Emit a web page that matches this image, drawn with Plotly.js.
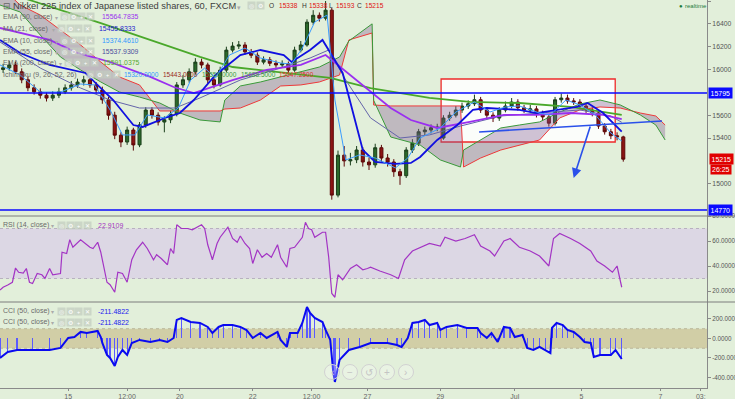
<!DOCTYPE html>
<html><head><meta charset="utf-8">
<script src="https://cdn.plot.ly/plotly-3.0.1.min.js"></script>
<style>html,body{margin:0;padding:0;background:#e2efda;overflow:hidden}#chart{width:735px;height:399px}</style>
</head><body><div id="chart"></div>
<script>
// ---- x axis (trading hours from left edge) ----
const tickHours = [44, 82, 116, 163, 201, 237, 284, 332, 375, 426, 452];
const tickLabels = ['15', '12:00', '20', '22', '12:00', '27', '29', 'Jul', '5', '7', '03:'];

// ---- price axis labels (15800 / 15200 / 14800 sit under the value boxes) ----
const priceTicks = [15000, 15400, 15600, 16000, 16200, 16400, 16600];
const rsiTicks = [20, 40, 60, 80];
const cciTicks = [-400, -200, 0, 200];

// ---- price candles (4-hour groups) ----
const opens = [16000,16015,16040,15980,15910,15840,15805,15775,15750,15775,
15805,15840,15865,15890,15910,15865,15820,15735,15600,15425,
15365,15470,15340,15515,15645,15600,15540,15560,15610,15865,
15910,15980,16065,16040,15910,15865,15995,16170,16205,16215,
16155,16125,16065,16085,16055,16040,16050,15995,16170,16215,
16415,16475,16450,16520,14900,15250,15200,15210,15295,15190,
15165,15315,15225,15190,15105,15070,15295,15355,15455,15470,
15490,15400,15575,15600,15645,15680,15700,15735,15645,15600,
15575,15645,15680,15715,15665,15645,15655,15610,15585,15530,
15735,15750,15725,15715,15680,15645,15620,15505,15455,15420,15410];
const highs = [16050,16075,16070,16010,15940,15870,15835,15800,15810,15840,
15870,15900,15920,15945,15935,15890,15850,15760,15630,15450,
15500,15490,15540,15670,15670,15625,15590,15640,15890,15950,
16010,16100,16095,16060,15935,16025,16200,16240,16250,16240,
16180,16150,16115,16110,16080,16080,16070,16200,16250,16440,
16520,16500,16600,16540,15290,15330,15270,15330,15320,15230,
15350,15340,15260,15215,15130,15320,15390,15480,15500,15520,
15525,15600,15630,15680,15710,15730,15780,15760,15670,15625,
15670,15720,15750,15740,15690,15690,15680,15640,15610,15760,
15790,15780,15750,15740,15705,15670,15640,15530,15480,15450,15420];
const lows = [15970,15990,15960,15880,15810,15780,15745,15720,15725,15750,
15785,15815,15840,15860,15840,15790,15700,15560,15390,15320,
15340,15290,15320,15490,15570,15510,15450,15530,15590,15840,
15885,15955,16010,15880,15835,15850,15975,16150,16180,16130,
16100,16040,16045,16030,16015,16020,15960,15980,16150,16200,
16390,16420,16430,14860,14880,15150,15160,15180,15150,15120,
15140,15190,15150,15060,14990,15050,15270,15330,15420,15440,
15460,15385,15550,15580,15620,15655,15680,15620,15570,15540,
15550,15625,15660,15640,15620,15620,15580,15555,15500,15510,
15710,15700,15690,15655,15620,15590,15480,15430,15390,15380,15193];
const closes = [16015,16040,15980,15910,15840,15805,15775,15750,15775,15805,
15840,15865,15890,15910,15865,15820,15735,15600,15425,15365,
15470,15340,15515,15645,15600,15540,15560,15610,15865,15910,
15980,16065,16040,15910,15865,15995,16170,16205,16215,16155,
16125,16065,16085,16055,16040,16050,15995,16170,16215,16415,
16475,16450,16520,14900,15250,15200,15210,15295,15190,15165,
15315,15225,15190,15105,15070,15295,15355,15455,15470,15490,
15495,15575,15600,15645,15680,15700,15735,15645,15600,15575,
15645,15680,15715,15665,15645,15655,15610,15585,15530,15735,
15750,15725,15715,15680,15645,15620,15505,15455,15420,15410,15215];
const barHours = closes.map((_, i) => 4 * i + 2);

// ---- moving averages ----
const ema200H = [0,19,65,129,150,213,239,277,303,335,368,401];
const ema200V = [16696,16609,16407,16110,16022,15926,15838,15751,15716,15707,15672,15602];
const ema90H = [0,32,50,71,97,112,125,150,172,194,210,226,239,252,265,282,303,325,346,368,389,401];
const ema90V = [16364,16259,16145,16066,15935,15847,15794,15908,15996,16040,16127,15952,15803,15663,15558,15488,15541,15602,15602,15619,15602,15565];
const ema55H = [0,26,52,71,90,113,129,155,181,200,212,223,239,258,277,297,323,348,374,394,401];
const ema55V = [16241,16013,15838,15733,15663,15663,15751,15908,16013,16101,16171,15908,15576,15400,15427,15505,15593,15619,15646,15593,15538];
const ma21H = [0,13,32,55,73,86,92,108,116,125,139,155,168,183,188,200,208,221,234,242,255,265,271,282,295,305,314,335,346,359,372,379,389,401];
const ma21V = [16259,16145,16040,15970,15733,15514,15497,15584,15619,15733,15952,16127,16171,16127,16066,16171,16259,15970,15295,15190,15173,15182,15234,15383,15514,15646,15663,15646,15619,15646,15672,15707,15619,15456];
const ema10H = [0,13,26,39,52,61,71,79,87,95,106,115,123,132,139,148,158,168,181,188,195,203,211,216,223,232,242,255,263,271,284,294,306,316,326,335,348,355,365,374,384,394,401];
const ema10V = [16040,15952,15803,15803,15873,15865,15646,15427,15427,15602,15576,15663,15908,16013,15926,16127,16188,16101,16057,16048,16188,16416,16477,15733,15208,15252,15225,15138,15225,15400,15488,15628,15716,15628,15672,15681,15619,15602,15733,15690,15602,15444,15374];

// ---- Ichimoku cloud ----
const cloudH = [0,13,26,39,52,65,77,90,103,116,129,142,145,155,168,181,194,206,219,225,240,241,252,271,284,297,299,310,323,335,348,361,374,387,400,413,423,429];
const spanB = [16731,16565,16477,16346,16215,16066,15935,15865,15637,15637,15637,15637,15654,15663,15733,15856,15865,15891,15952,16259,16320,15689,15681,15681,15681,15681,15146,15225,15295,15339,15383,15576,15646,15672,15663,15619,15593,15514];
const spanA = [16565,16504,16302,16110,15996,15891,15803,15759,15707,15619,15558,15541,15733,15856,15891,15935,15978,16022,16110,16250,16400,15730,15409,15339,15208,15146,15295,15383,15488,15514,15541,15628,15698,15733,15690,15602,15514,15383];

// ---- horizontal levels & drawings ----
const levels = [15795, 14770];
const boxHours = [284.5, 396.8];
const boxPrices = [15365, 15917];
const trendHours = [309, 427];
const trendPrices = [15453, 15549];
const arrowHours = [381, 370];
const arrowPrices = [15514, 15050];

// ---- RSI (14) ----
const rsiH = [0,2,5,8,10,12,15,17,19,21,24,27,29,32,34,39,40,43,45,47,52,55,58,60,63,65,69,71,74,76,79,82,85,88,92,95,99,101,104,108,110,112,114,117,121,124,130,132,134,137,140,142,144,147,150,153,155,158,161,163,166,169,172,175,179,181,185,187,190,192,195,197,199,201,203,208,210,212,214,216,218,221,226,230,234,237,239,245,252,257,261,266,271,277,284,287,294,300,306,310,316,319,325,329,335,342,348,354,357,361,368,374,381,385,390,395,398,401];
const rsiV = [20.8,23,24.8,27,38.4,35,34.4,38,27,26,34,33,30,38,33,34,51,50,61,55,61,58,55,54,59,51,27,25,19,35,34,27,45,53,59,54,45,49,46,41,54,50,73,70,70,69,73,70,57,45,58,63,66,71,62,59,64,58,54,42,53,47,50,47,57,47,39,54,55,58,63,75,70,69,63,67,67,47,18,15,33,29,38,41,37,38,39,36,33,30,45,52,55,58,56,63,60,62,65,56,52,48,60,62,55,52,48,40,62,66,62,58,52,44,40,35,40,23];

// ---- CCI (50) ----
const cciH = [0,5,11,21,32,39,44,48,52,56,63,65,66,69,71,74,76,79,82,85,90,97,103,108,112,114,117,123,129,134,137,141,144,150,155,159,163,168,172,179,181,185,187,192,195,198,200,203,208,210,213,215,216,219,225,232,239,250,256,259,263,266,270,274,277,282,284,288,295,301,308,310,314,317,321,325,329,332,337,340,344,348,352,355,356,359,363,366,370,374,377,381,383,387,394,397,401];
const cciV = [-200,-138,-118,-118,-118,-97,5,15,67,56,77,15,-46,-169,-200,-282,-190,-118,-169,-46,-15,-36,-15,-36,5,190,210,169,159,118,56,118,138,138,118,87,5,56,5,67,-15,-87,56,56,159,323,262,210,169,87,-15,-354,-446,-220,-118,-87,-46,-46,-67,-87,5,159,169,190,138,159,87,118,138,108,108,56,5,56,-36,118,108,15,36,-97,-118,-87,-118,-149,108,159,138,87,67,15,-36,-46,-190,-169,-169,-118,-211];

// ---------------------------------------------------------------
const F = 'Liberation Sans, Arial, sans-serif';
const PW = 707, PH = 388;
const px = x => x / PW, py = y => 1 - y / PH;

function line(x, y, color, width, yaxis) {
  return {type: 'scatter', mode: 'lines', x, y, xaxis: 'x', yaxis: yaxis || 'y',
    line: {color, width}, hoverinfo: 'skip', showlegend: false};
}

const traces = [
  {type: 'scatter', mode: 'lines', x: cloudH, y: spanB, xaxis: 'x', yaxis: 'y',
   line: {color: '#ee3a3a', width: 1}, hoverinfo: 'skip', showlegend: false},
  {type: 'scatter', mode: 'lines', x: cloudH, y: spanA, xaxis: 'x', yaxis: 'y',
   line: {color: '#3a9a3a', width: 1}, fill: 'tonexty', fillcolor: 'rgba(130,90,145,0.36)',
   hoverinfo: 'skip', showlegend: false},
  line(ema200H, ema200V, '#4aa82a', 1.8),
  line(ema55H, ema55V, '#6464aa', 1),
  line(ema90H, ema90V, '#9a2ff0', 1.8),
  line(ma21H, ma21V, '#1010e0', 1.8),
  line(ema10H, ema10V, '#3a9cff', 1),
  {type: 'candlestick', x: barHours, open: opens, high: highs, low: lows, close: closes,
   xaxis: 'x', yaxis: 'y', whiskerwidth: 0,
   increasing: {line: {color: '#1b3f1b', width: 1}, fillcolor: '#2b6a2b'},
   decreasing: {line: {color: '#5c0808', width: 1}, fillcolor: '#8c1414'},
   hoverinfo: 'skip', showlegend: false},
  line(rsiH, rsiV, '#a334c4', 1.2, 'y2'),
  {type: 'bar', x: cciH, y: cciV, xaxis: 'x', yaxis: 'y3', width: 0.8,
   marker: {color: '#5a5aff', line: {width: 0}}, hoverinfo: 'skip', showlegend: false},
  line(cciH, cciV, '#0a0af0', 2, 'y3')
];

const shapes = [
  {type: 'rect', xref: 'paper', x0: 0, x1: 1, yref: 'y2', y0: 30, y1: 70, fillcolor: '#dcd7e4', line: {width: 0}, layer: 'below'},
  {type: 'line', xref: 'paper', x0: 0, x1: 1, yref: 'y2', y0: 70, y1: 70, line: {color: '#b8b0c0', width: 1, dash: 'dot'}, layer: 'below'},
  {type: 'line', xref: 'paper', x0: 0, x1: 1, yref: 'y2', y0: 30, y1: 30, line: {color: '#b8b0c0', width: 1, dash: 'dot'}, layer: 'below'},
  {type: 'rect', xref: 'paper', x0: 0, x1: 1, yref: 'y3', y0: -100, y1: 100, fillcolor: '#d1cea6', line: {width: 0}, layer: 'below'},
  {type: 'line', xref: 'paper', x0: 0, x1: 1, yref: 'y3', y0: 100, y1: 100, line: {color: '#b9b69a', width: 1, dash: 'dot'}, layer: 'below'},
  {type: 'line', xref: 'paper', x0: 0, x1: 1, yref: 'y3', y0: -100, y1: -100, line: {color: '#b9b69a', width: 1, dash: 'dot'}, layer: 'below'},
  {type: 'rect', xref: 'x', yref: 'y', x0: boxHours[0], x1: boxHours[1], y0: boxPrices[0], y1: boxPrices[1],
   fillcolor: 'rgba(255,255,255,0.86)', line: {color: '#ee2a2a', width: 1.3}, layer: 'below'},
  {type: 'line', xref: 'x', yref: 'y', x0: trendHours[0], x1: trendHours[1], y0: trendPrices[0], y1: trendPrices[1],
   line: {color: '#2a50ea', width: 1.6}},
  {type: 'line', xref: 'paper', yref: 'paper', x0: 0, x1: 1.04, y0: py(216), y1: py(216), line: {color: '#7d7d7d', width: 1}},
  {type: 'line', xref: 'paper', yref: 'paper', x0: 0, x1: 1.04, y0: py(302), y1: py(302), line: {color: '#7d7d7d', width: 1}}
];
levels.forEach(v => shapes.push({type: 'line', xref: 'paper', x0: 0, x1: 1, yref: 'y', y0: v, y1: v,
  line: {color: '#0a0aff', width: 1.6}}));

const navX = [332, 350, 369, 387, 406];
const navT = ['‹', '−', '↺', '+', '›'];
navX.forEach(cx => shapes.push({type: 'circle', xref: 'paper', yref: 'paper',
  x0: px(cx - 7.5), x1: px(cx + 7.5), y0: py(379.5), y1: py(364.5),
  fillcolor: 'rgba(255,255,255,0.25)', line: {color: '#d2d2d2', width: 1}}));

const ann = [];
function T(x, y, text, color, size, extra) {
  ann.push(Object.assign({xref: 'paper', yref: 'paper', x: px(x), y: py(y), text, showarrow: false,
    xanchor: 'left', yanchor: 'middle', font: {family: F, size, color}}, extra || {}));
}
function icons(x, y, n) {
  const g = ['◎', '⚙', '+', '✕'];
  for (let k = 0; k < n; k++) {
    ann.push({xref: 'paper', yref: 'paper', x: px(x + k * 8.5), y: py(y), text: g[k % 4], showarrow: false,
      xanchor: 'left', yanchor: 'middle', width: 7, height: 7, bgcolor: 'rgba(195,205,192,0.75)',
      borderpad: 0, font: {family: F, size: 5.5, color: '#ffffff'}});
  }
}

// header
T(1, 6, '⊟', '#666', 9);
T(11, 6, 'Nikkei 225 index of Japanese listed shares, 60, FXCM', '#3e3e3e', 9.3);
T(235, 7, '▾', '#aaa', 7);
icons(247, 6, 2);
T(267, 6, 'O', '#333', 6.6); T(277, 6, '15338', '#e01010', 6.6);
T(300, 6, 'H', '#333', 6.6); T(307, 6, '15338', '#e01010', 6.6);
T(327, 6, 'L', '#333', 6.6); T(334, 6, '15193', '#e01010', 6.6);
T(355, 6, 'C', '#333', 6.6); T(363, 6, '15215', '#e01010', 6.6);
T(677, 6, '●', '#1b7b3b', 6); T(683, 6, 'realtime', '#1b7b3b', 6);

const rows = [
  [17, 'EMA (90, close)', '15564.7835', '#9a33ee', 60, 100],
  [29, 'MA (21, close)', '15455.8333', '#2424cc', 57, 97],
  [41, 'EMA (10, close)', '15374.4610', '#3399ff', 60, 100],
  [52, 'EMA (55, close)', '15537.9309', '#4c4c9c', 60, 100],
  [63, 'EMA (200, close)', '15591.0375', '#58aa33', 64, 101]
];
rows.forEach(r => {
  T(1, r[0], r[1], '#6a6a6a', 7);
  T(r[4] - 7.5, r[0] + 1, '▾', '#aaa', 5.5);
  icons(r[4], r[0], 4);
  T(r[5], r[0], r[2], r[3], 6.9);
});
T(1, 75, 'Ichimoku (9, 26, 52, 26)', '#6a6a6a', 7);
icons(86, 75, 4);
T(122, 75, '15320.0000', '#3399ff', 6.5);
T(161, 75, '15443.0000', '#9a2a22', 6.5);
T(200, 75, '15556.0000', '#3a9a3a', 6.5);
T(239, 75, '15688.5000', '#3a9a3a', 6.5);
T(277, 75, '15647.2500', '#e03030', 6.5);

T(1, 225, 'RSI (14, close)', '#6a6a6a', 7);
T(49, 226, '▾', '#aaa', 5.5);
icons(57, 225, 4);
T(96, 225, '22.9109', '#a334c4', 7);
[311, 322].forEach(y => {
  T(1, y, 'CCI (50, close)', '#6a6a6a', 7);
  T(49, y + 1, '▾', '#aaa', 5.5);
  icons(57, y, 4);
  T(96, y, '-211.4822', '#2222ee', 7);
});

levels.forEach(v => ann.push({xref: 'paper', yref: 'y', x: px(708), y: v, text: String(v), showarrow: false,
  xanchor: 'left', yanchor: 'middle', bgcolor: '#0a0aff', borderpad: 1.5, font: {family: F, size: 7, color: '#fff'}}));
ann.push({xref: 'paper', yref: 'y', x: px(709), y: closes[closes.length - 1], text: '15215', showarrow: false,
  xanchor: 'left', yanchor: 'middle', bgcolor: '#e00000', borderpad: 1.5, font: {family: F, size: 7, color: '#fff'}});
ann.push({xref: 'paper', yref: 'paper', x: px(710), y: py(169.5), text: '26:25', showarrow: false,
  xanchor: 'left', yanchor: 'middle', bgcolor: '#e00000', borderpad: 1, font: {family: F, size: 7, color: '#fff'}});

ann.push({xref: 'x', yref: 'y', axref: 'x', ayref: 'y', x: arrowHours[1], y: arrowPrices[1],
  ax: arrowHours[0], ay: arrowPrices[0], showarrow: true, arrowhead: 2, arrowsize: 1.2,
  arrowwidth: 1.6, arrowcolor: '#2a50ea', text: ''});

navX.forEach((cx, k) => T(cx, 372, navT[k], '#c4c4c4', 10, {xanchor: 'center'}));

const yBase = {side: 'right', anchor: 'x', showline: true, linecolor: '#8a8a8a', linewidth: 1,
  ticks: 'outside', ticklen: 3, tickcolor: '#8a8a8a', showgrid: false, zeroline: false,
  tickfont: {family: F, size: 6.3, color: '#555'}, automargin: false, fixedrange: true};

const layout = {
  width: 735, height: 399,
  margin: {l: 0, r: 28, t: 0, b: 11, pad: 0},
  paper_bgcolor: '#e2efda', plot_bgcolor: '#e2efda',
  font: {family: F},
  showlegend: false,
  bargap: 0,
  xaxis: {domain: [0, 1], range: [0, 456], anchor: 'y3', tickmode: 'array', tickvals: tickHours, ticktext: tickLabels,
    ticks: 'outside', ticklen: 2, tickcolor: '#8a8a8a', showline: true, linecolor: '#8a8a8a',
    showgrid: false, zeroline: false, tickfont: {family: F, size: 7, color: '#666'},
    rangeslider: {visible: false}, automargin: false, fixedrange: true},
  yaxis: Object.assign({}, yBase, {domain: [py(216), 1], range: [14717, 16609], tickmode: 'array',
    tickvals: priceTicks, ticktext: priceTicks.map(String), tickfont: {family: F, size: 6.8, color: '#555'}}),
  yaxis2: Object.assign({}, yBase, {domain: [py(302), py(216)], range: [11.2, 80], tickmode: 'array',
    tickvals: rsiTicks, ticktext: rsiTicks.map(v => v.toFixed(4))}),
  yaxis3: Object.assign({}, yBase, {domain: [0, py(302)], range: [-508, 374], tickmode: 'array',
    tickvals: cciTicks, ticktext: cciTicks.map(v => v.toFixed(4))}),
  shapes, annotations: ann
};

Plotly.newPlot('chart', traces, layout, {staticPlot: true, displayModeBar: false});
</script></body></html>
